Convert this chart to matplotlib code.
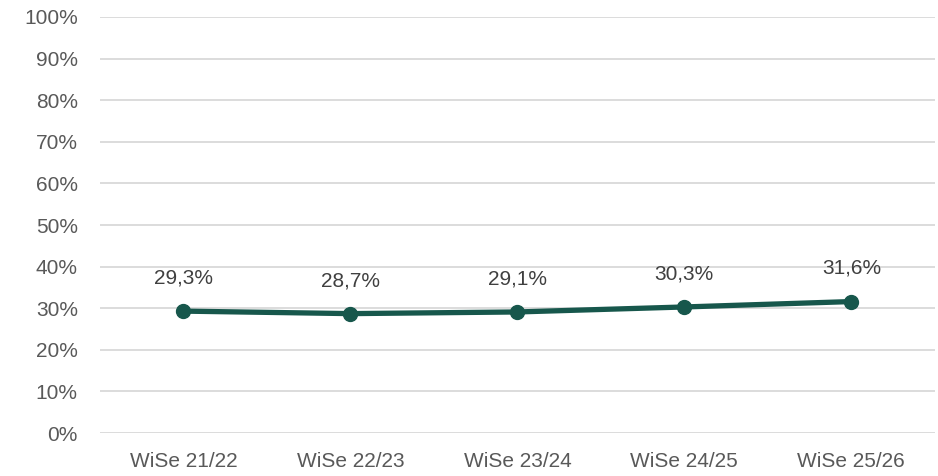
import matplotlib
matplotlib.use('Agg')
import matplotlib.pyplot as plt
from matplotlib.ticker import MultipleLocator, FuncFormatter

semesters = ['WiSe 21/22', 'WiSe 22/23', 'WiSe 23/24', 'WiSe 24/25', 'WiSe 25/26']
shares = [29.3, 28.7, 29.1, 30.3, 31.6]

plt.rcParams['font.family'] = ['Liberation Sans', 'DejaVu Sans']

fig = plt.figure(figsize=(9.38, 4.76), dpi=100)
ax = fig.add_axes([0.1066, 0.0903, 0.89, 0.874])

x = list(range(len(semesters)))
ax.plot(x, shares, color='#17574c', linewidth=3.8, marker='o', markersize=10,
        solid_capstyle='round', zorder=3)

for xi, v in zip(x, shares):
    ax.annotate('{:.1f}%'.format(v).replace('.', ','), (xi, v),
                xytext=(0, 17), textcoords='offset points', ha='center', va='bottom',
                fontsize=15, color='#404040')

ax.set_xlim(-0.5, len(semesters) - 0.5)
ax.set_ylim(0, 100)
ax.yaxis.set_major_locator(MultipleLocator(10))
ax.yaxis.set_major_formatter(FuncFormatter(lambda v, p: '{:.0f}%'.format(v)))
ax.set_xticks(x)
ax.set_xticklabels(semesters)
ax.tick_params(axis='both', length=0, labelsize=15, labelcolor='#595959')
ax.tick_params(axis='y', pad=16)
ax.tick_params(axis='x', pad=14)
ax.grid(axis='y', color='#d9d9d9', linewidth=1.3)
ax.set_axisbelow(True)
for s in ax.spines.values():
    s.set_visible(False)

fig.savefig('out.png', dpi=100)
